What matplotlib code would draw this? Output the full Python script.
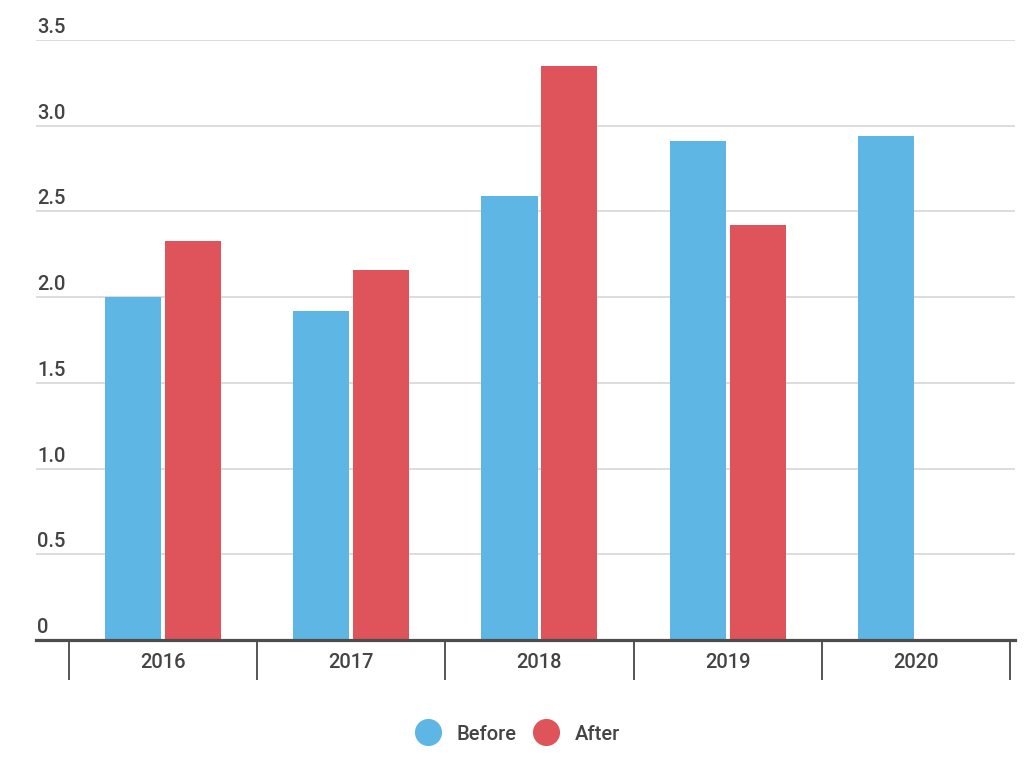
import matplotlib.pyplot as plt
import matplotlib.transforms as mtransforms
from matplotlib.lines import Line2D
import numpy as np

plt.rcParams['font.family'] = ['Roboto', 'DejaVu Sans']
plt.rcParams['font.weight'] = 'medium'

years = ['2016', '2017', '2018', '2019', '2020']
before = [2.0, 1.92, 2.59, 2.91, 2.94]
after = [2.33, 2.16, 3.35, 2.42, np.nan]
yticks = [0, 0.5, 1.0, 1.5, 2.0, 2.5, 3.0, 3.5]
ytick_labels = ['0', '0.5', '1.0', '1.5', '2.0', '2.5', '3.0', '3.5']

blue = '#5eb6e4'
red = '#df535a'
text_col = '#444444'

W, H = 1024, 759
fig = plt.figure(figsize=(W / 100, H / 100), dpi=100)
ax = fig.add_axes([36 / W, (H - 640) / H, (1015 - 36) / W, 600 / H])

x = np.arange(len(years))
bw = 0.2976
off = 0.159
ax.bar(x - off, before, bw, color=blue, zorder=3)
ax.bar(x + off, after, bw, color=red, zorder=3)

ax.set_xlim(-0.675, 4.527)
ax.set_ylim(0, 3.5)

# gridlines
for v in yticks[1:]:
    ax.axhline(v, color='#dddddd', lw=1.4, zorder=1)

# y labels sit above the gridlines
ax.set_yticks([])
lab_tr = mtransforms.offset_copy(ax.get_yaxis_transform(), fig=fig, x=1, y=3, units='dots')
for v, s in zip(yticks, ytick_labels):
    ax.text(0, v, s, transform=lab_tr, ha='left', va='bottom', fontsize=14.5, color=text_col)

for sp in ['top', 'right', 'left']:
    ax.spines[sp].set_visible(False)
ax.spines['bottom'].set_color('#4d4d4d')
ax.spines['bottom'].set_linewidth(2.3)
ax.spines['bottom'].set_zorder(4)

ax.set_xticks(x)
ax.set_xticklabels(years, fontsize=14.5, color=text_col)
ax.tick_params(axis='x', which='major', length=0, pad=9)
ax.set_xticks(np.arange(-0.5, len(years)), minor=True)
ax.tick_params(axis='x', which='minor', length=29, width=1.4, color='#555555')

handles = [Line2D([], [], marker='o', ls='', markersize=18.5, color=blue),
           Line2D([], [], marker='o', ls='', markersize=18.5, color=red)]
fig.legend(handles, ['Before', 'After'], loc='center', bbox_to_anchor=(0.502, (H - 734) / H),
           ncol=2, frameon=False, fontsize=14.5, labelcolor=text_col,
           handletextpad=0.45, columnspacing=0.45)

fig.savefig('out.png', dpi=100)
